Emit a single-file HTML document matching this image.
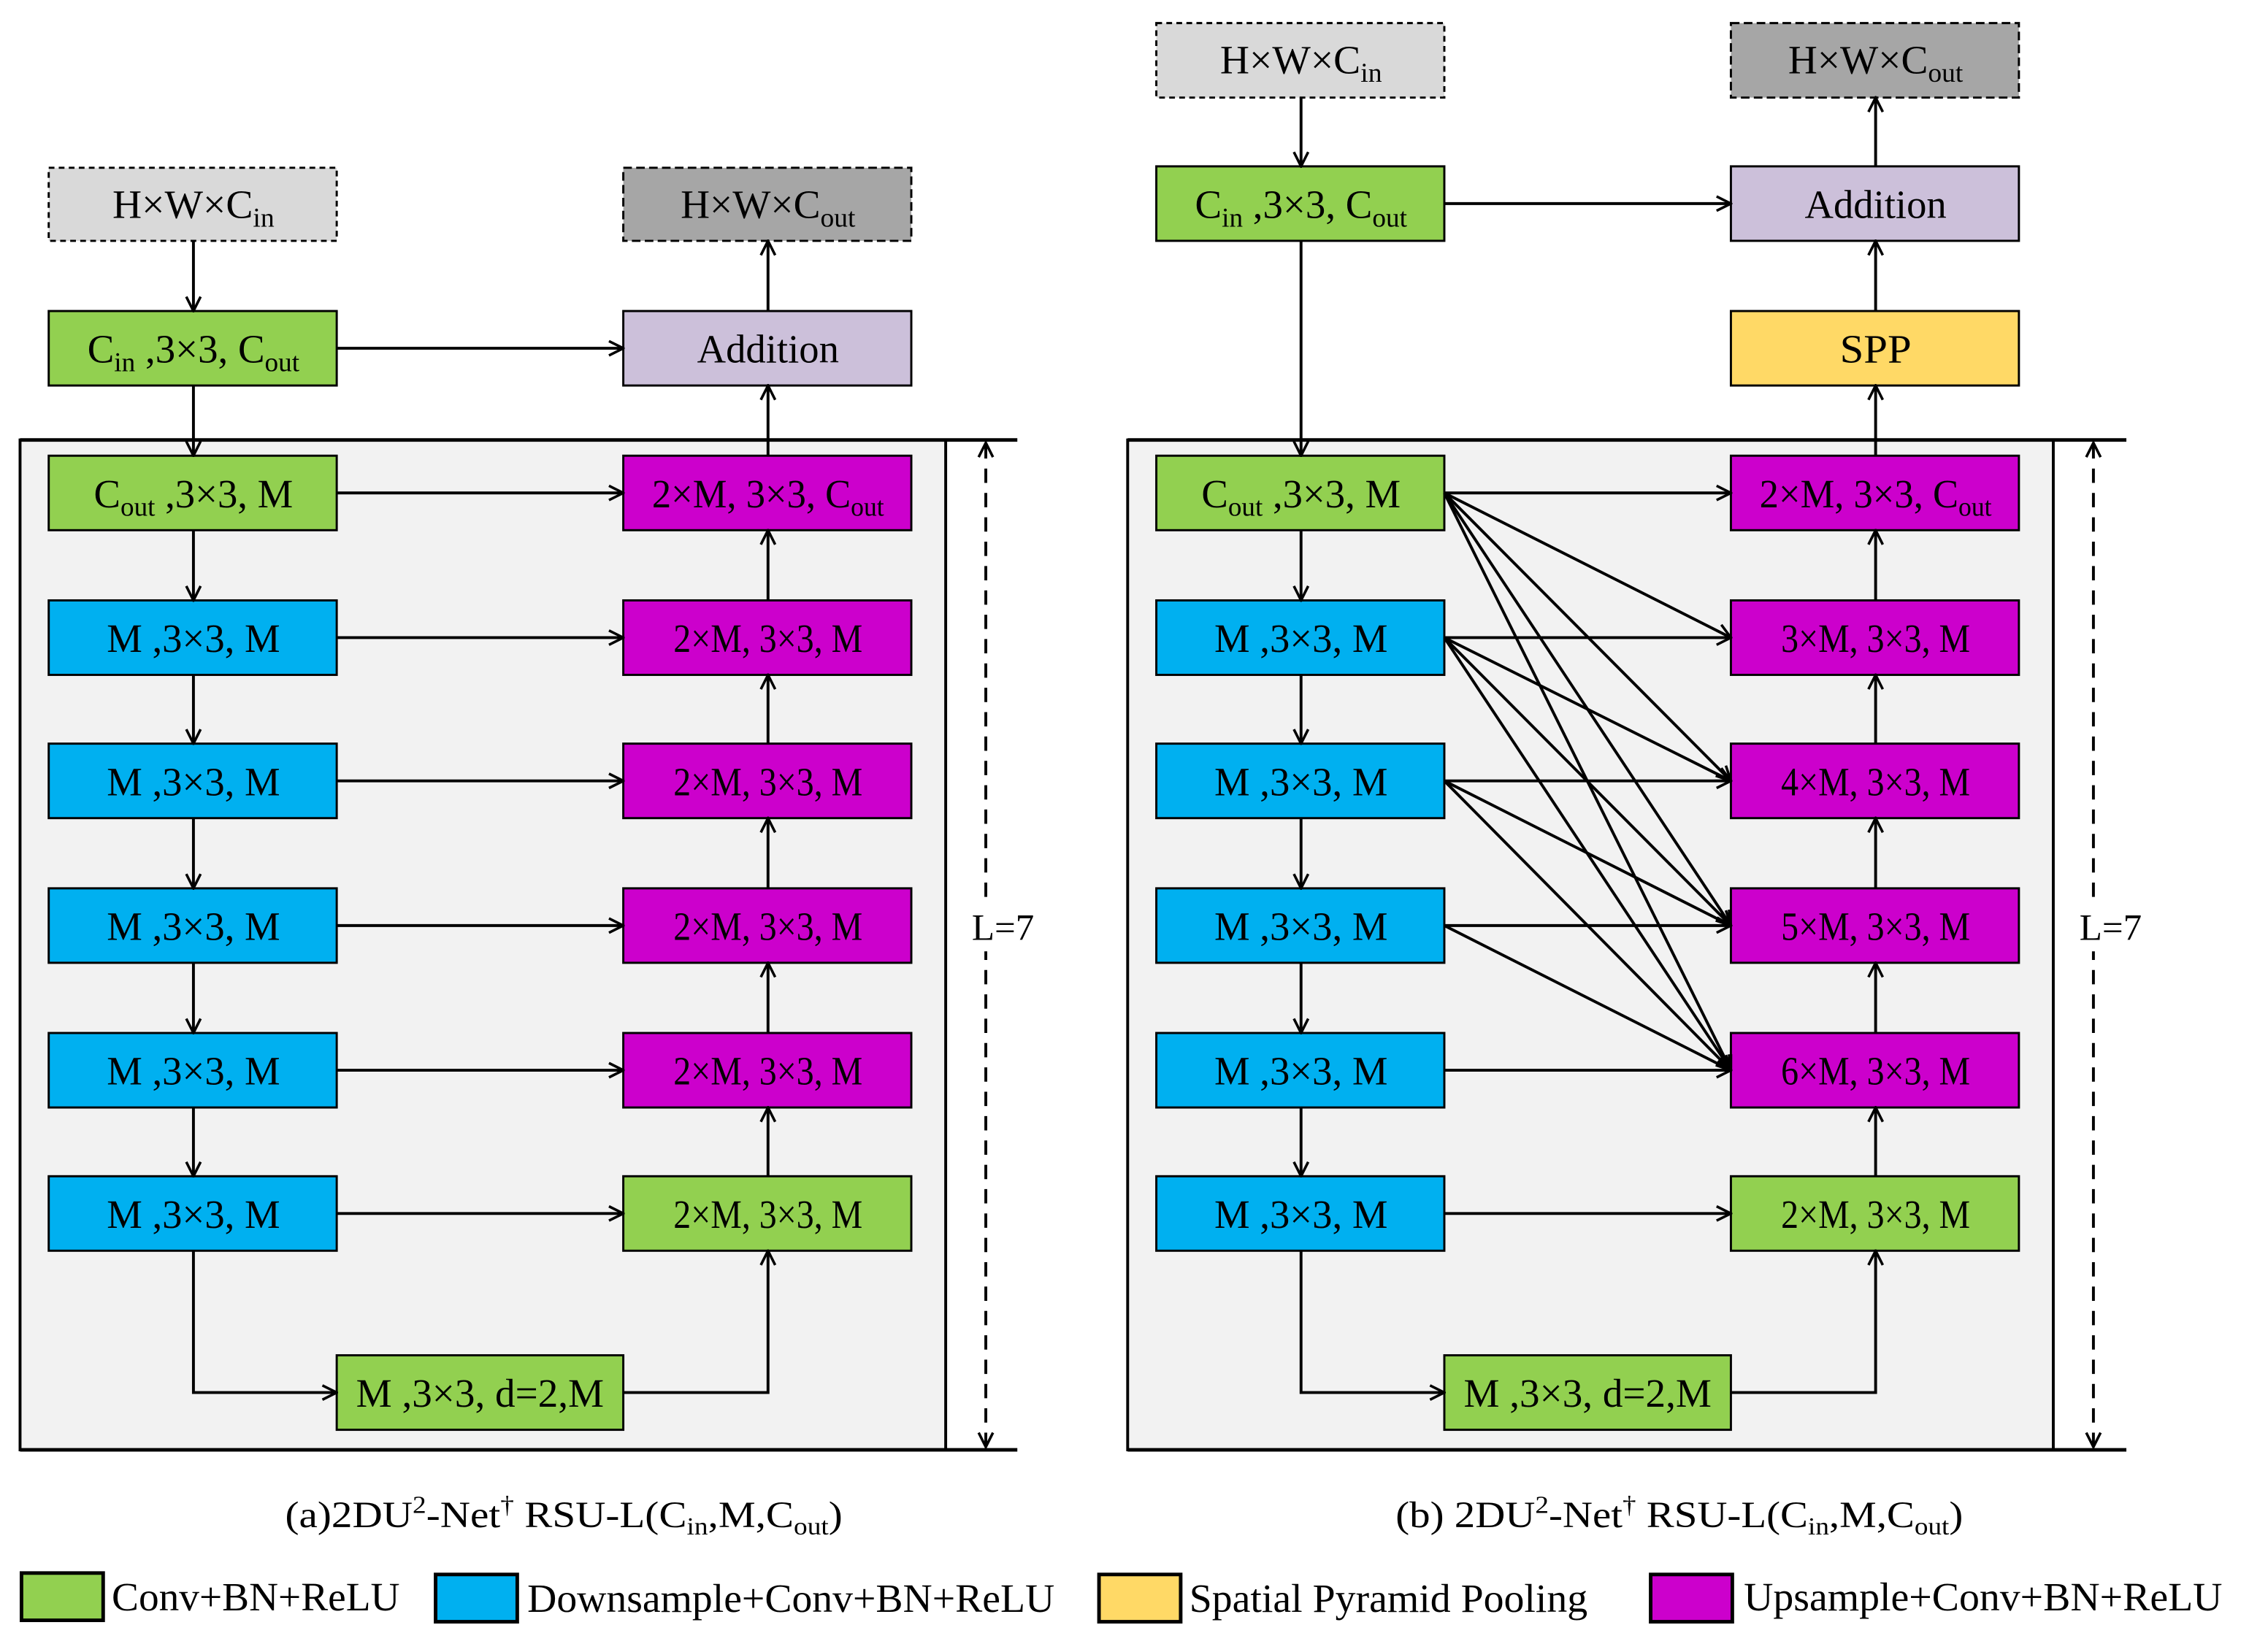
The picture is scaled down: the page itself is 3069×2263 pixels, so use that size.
<!DOCTYPE html>
<html><head><meta charset="utf-8"><style>html,body{margin:0;padding:0;background:#fff}svg{display:block}</style></head>
<body>
<svg width="3069" height="2263" viewBox="0 0 1564 1153" xmlns="http://www.w3.org/2000/svg" font-family="'Liberation Serif', serif" font-size="28">
<defs>
<marker id="ar" viewBox="0 0 12 12" refX="11" refY="6" markerWidth="12" markerHeight="12" markerUnits="userSpaceOnUse" orient="auto">
<path d="M1,1 L11,6 L1,11" fill="none" stroke="#000" stroke-width="1.8"/>
</marker>
</defs>
<rect width="1564" height="1153" fill="#fff"/>

<!-- ============ PANEL A ============ -->
<rect x="14" y="307" width="646" height="705" fill="#f2f2f2" stroke="#000" stroke-width="2"/>
<line x1="14" y1="307" x2="710" y2="307" stroke="#000" stroke-width="2.5"/>
<line x1="14" y1="1012" x2="710" y2="1012" stroke="#000" stroke-width="2.5"/>
<line x1="688" y1="660" x2="688" y2="309" stroke="#000" stroke-width="2" stroke-dasharray="10,7" marker-end="url(#ar)"/>
<line x1="688" y1="660" x2="688" y2="1010" stroke="#000" stroke-width="2" stroke-dasharray="10,7" marker-end="url(#ar)"/>
<rect x="674" y="630" width="54" height="34" fill="#fff"/>
<text x="700" y="656" text-anchor="middle" font-size="26">L=7</text>

<g stroke="#000" stroke-width="1.5">
<rect x="34" y="117" width="201" height="51" fill="#d9d9d9" stroke-dasharray="4,3"/>
<rect x="435" y="117" width="201" height="51" fill="#a6a6a6" stroke-dasharray="6,3"/>
<rect x="34" y="217" width="201" height="52" fill="#92d050"/>
<rect x="435" y="217" width="201" height="52" fill="#ccc0da"/>
<rect x="34" y="318" width="201" height="52" fill="#92d050"/>
<rect x="34" y="419" width="201" height="52" fill="#00b0f0"/>
<rect x="34" y="519" width="201" height="52" fill="#00b0f0"/>
<rect x="34" y="620" width="201" height="52" fill="#00b0f0"/>
<rect x="34" y="721" width="201" height="52" fill="#00b0f0"/>
<rect x="34" y="821" width="201" height="52" fill="#00b0f0"/>
<rect x="435" y="318" width="201" height="52" fill="#cc00cc"/>
<rect x="435" y="419" width="201" height="52" fill="#cc00cc"/>
<rect x="435" y="519" width="201" height="52" fill="#cc00cc"/>
<rect x="435" y="620" width="201" height="52" fill="#cc00cc"/>
<rect x="435" y="721" width="201" height="52" fill="#cc00cc"/>
<rect x="435" y="821" width="201" height="52" fill="#92d050"/>
<rect x="235" y="946" width="200" height="52" fill="#92d050"/>
</g>
<g stroke="#000" stroke-width="2" fill="none" marker-end="url(#ar)">
<line x1="135" y1="168" x2="135" y2="217"/>
<line x1="235" y1="243" x2="435" y2="243"/>
<line x1="536" y1="217" x2="536" y2="168"/>
<line x1="135" y1="269" x2="135" y2="318"/>
<line x1="536" y1="318" x2="536" y2="269"/>
<line x1="135" y1="370" x2="135" y2="419"/>
<line x1="135" y1="471" x2="135" y2="519"/>
<line x1="135" y1="571" x2="135" y2="620"/>
<line x1="135" y1="672" x2="135" y2="721"/>
<line x1="135" y1="773" x2="135" y2="821"/>
<line x1="536" y1="419" x2="536" y2="370"/>
<line x1="536" y1="519" x2="536" y2="471"/>
<line x1="536" y1="620" x2="536" y2="571"/>
<line x1="536" y1="721" x2="536" y2="672"/>
<line x1="536" y1="821" x2="536" y2="773"/>
<line x1="235" y1="344" x2="435" y2="344"/>
<line x1="235" y1="445" x2="435" y2="445"/>
<line x1="235" y1="545" x2="435" y2="545"/>
<line x1="235" y1="646" x2="435" y2="646"/>
<line x1="235" y1="747" x2="435" y2="747"/>
<line x1="235" y1="847" x2="435" y2="847"/>
<polyline points="135,873 135,972 235,972"/>
<polyline points="435,972 536,972 536,873"/>
</g>
<g text-anchor="middle" lengthAdjust="spacingAndGlyphs">
<text x="135" y="152" textLength="113" lengthAdjust="spacingAndGlyphs">H×W×C<tspan font-size="19" dy="6">in</tspan></text>
<text x="536" y="152" textLength="122" lengthAdjust="spacingAndGlyphs">H×W×C<tspan font-size="19" dy="6">out</tspan></text>
<text x="135" y="253" textLength="148" lengthAdjust="spacingAndGlyphs">C<tspan font-size="19" dy="6">in</tspan><tspan dy="-6"> ,3×3, C</tspan><tspan font-size="19" dy="6">out</tspan></text>
<text x="536" y="253" textLength="99" lengthAdjust="spacingAndGlyphs">Addition</text>
<text x="135" y="354" textLength="139" lengthAdjust="spacingAndGlyphs">C<tspan font-size="19" dy="6">out</tspan><tspan dy="-6"> ,3×3, M</tspan></text>
<text x="135" y="455" textLength="121" lengthAdjust="spacingAndGlyphs">M ,3×3, M</text>
<text x="135" y="555" textLength="121" lengthAdjust="spacingAndGlyphs">M ,3×3, M</text>
<text x="135" y="656" textLength="121" lengthAdjust="spacingAndGlyphs">M ,3×3, M</text>
<text x="135" y="757" textLength="121" lengthAdjust="spacingAndGlyphs">M ,3×3, M</text>
<text x="135" y="857" textLength="121" lengthAdjust="spacingAndGlyphs">M ,3×3, M</text>
<text x="536" y="354" textLength="162" lengthAdjust="spacingAndGlyphs">2×M, 3×3, C<tspan font-size="19" dy="6">out</tspan></text>
<text x="536" y="455" textLength="132" lengthAdjust="spacingAndGlyphs">2×M, 3×3, M</text>
<text x="536" y="555" textLength="132" lengthAdjust="spacingAndGlyphs">2×M, 3×3, M</text>
<text x="536" y="656" textLength="132" lengthAdjust="spacingAndGlyphs">2×M, 3×3, M</text>
<text x="536" y="757" textLength="132" lengthAdjust="spacingAndGlyphs">2×M, 3×3, M</text>
<text x="536" y="857" textLength="132" lengthAdjust="spacingAndGlyphs">2×M, 3×3, M</text>
<text x="335" y="982" textLength="173" lengthAdjust="spacingAndGlyphs">M ,3×3, d=2,M</text>
</g>

<!-- ============ PANEL B ============ -->
<rect x="787" y="307" width="646" height="705" fill="#f2f2f2" stroke="#000" stroke-width="2"/>
<line x1="787" y1="307" x2="1484" y2="307" stroke="#000" stroke-width="2.5"/>
<line x1="787" y1="1012" x2="1484" y2="1012" stroke="#000" stroke-width="2.5"/>
<line x1="1461" y1="660" x2="1461" y2="309" stroke="#000" stroke-width="2" stroke-dasharray="10,7" marker-end="url(#ar)"/>
<line x1="1461" y1="660" x2="1461" y2="1010" stroke="#000" stroke-width="2" stroke-dasharray="10,7" marker-end="url(#ar)"/>
<rect x="1447" y="630" width="54" height="34" fill="#fff"/>
<text x="1473" y="656" text-anchor="middle" font-size="26">L=7</text>

<g stroke="#000" stroke-width="1.5">
<rect x="807" y="16" width="201" height="52" fill="#d9d9d9" stroke-dasharray="4,3"/>
<rect x="1208" y="16" width="201" height="52" fill="#a6a6a6" stroke-dasharray="6,3"/>
<rect x="807" y="116" width="201" height="52" fill="#92d050"/>
<rect x="1208" y="116" width="201" height="52" fill="#ccc0da"/>
<rect x="1208" y="217" width="201" height="52" fill="#ffd966"/>
<rect x="807" y="318" width="201" height="52" fill="#92d050"/>
<rect x="807" y="419" width="201" height="52" fill="#00b0f0"/>
<rect x="807" y="519" width="201" height="52" fill="#00b0f0"/>
<rect x="807" y="620" width="201" height="52" fill="#00b0f0"/>
<rect x="807" y="721" width="201" height="52" fill="#00b0f0"/>
<rect x="807" y="821" width="201" height="52" fill="#00b0f0"/>
<rect x="1208" y="318" width="201" height="52" fill="#cc00cc"/>
<rect x="1208" y="419" width="201" height="52" fill="#cc00cc"/>
<rect x="1208" y="519" width="201" height="52" fill="#cc00cc"/>
<rect x="1208" y="620" width="201" height="52" fill="#cc00cc"/>
<rect x="1208" y="721" width="201" height="52" fill="#cc00cc"/>
<rect x="1208" y="821" width="201" height="52" fill="#92d050"/>
<rect x="1008" y="946" width="200" height="52" fill="#92d050"/>
</g>
<g stroke="#000" stroke-width="2" fill="none" marker-end="url(#ar)">
<line x1="908" y1="68" x2="908" y2="116"/>
<line x1="1008" y1="142" x2="1208" y2="142"/>
<line x1="1309" y1="116" x2="1309" y2="68"/>
<line x1="1309" y1="217" x2="1309" y2="168"/>
<line x1="908" y1="168" x2="908" y2="318"/>
<line x1="1309" y1="318" x2="1309" y2="269"/>
<line x1="908" y1="370" x2="908" y2="419"/>
<line x1="908" y1="471" x2="908" y2="519"/>
<line x1="908" y1="571" x2="908" y2="620"/>
<line x1="908" y1="672" x2="908" y2="721"/>
<line x1="908" y1="773" x2="908" y2="821"/>
<line x1="1309" y1="419" x2="1309" y2="370"/>
<line x1="1309" y1="519" x2="1309" y2="471"/>
<line x1="1309" y1="620" x2="1309" y2="571"/>
<line x1="1309" y1="721" x2="1309" y2="672"/>
<line x1="1309" y1="821" x2="1309" y2="773"/>
<line x1="1008" y1="344" x2="1208" y2="344"/>
<line x1="1008" y1="344" x2="1208" y2="445"/>
<line x1="1008" y1="344" x2="1208" y2="545"/>
<line x1="1008" y1="344" x2="1208" y2="646"/>
<line x1="1008" y1="344" x2="1208" y2="747"/>
<line x1="1008" y1="445" x2="1208" y2="445"/>
<line x1="1008" y1="445" x2="1208" y2="545"/>
<line x1="1008" y1="445" x2="1208" y2="646"/>
<line x1="1008" y1="445" x2="1208" y2="747"/>
<line x1="1008" y1="545" x2="1208" y2="545"/>
<line x1="1008" y1="545" x2="1208" y2="646"/>
<line x1="1008" y1="545" x2="1208" y2="747"/>
<line x1="1008" y1="646" x2="1208" y2="646"/>
<line x1="1008" y1="646" x2="1208" y2="747"/>
<line x1="1008" y1="747" x2="1208" y2="747"/>
<line x1="1008" y1="847" x2="1208" y2="847"/>
<polyline points="908,873 908,972 1008,972"/>
<polyline points="1208,972 1309,972 1309,873"/>
</g>
<g text-anchor="middle">
<text x="908" y="51" textLength="113" lengthAdjust="spacingAndGlyphs">H×W×C<tspan font-size="19" dy="6">in</tspan></text>
<text x="1309" y="51" textLength="122" lengthAdjust="spacingAndGlyphs">H×W×C<tspan font-size="19" dy="6">out</tspan></text>
<text x="908" y="152" textLength="148" lengthAdjust="spacingAndGlyphs">C<tspan font-size="19" dy="6">in</tspan><tspan dy="-6"> ,3×3, C</tspan><tspan font-size="19" dy="6">out</tspan></text>
<text x="1309" y="152" textLength="99" lengthAdjust="spacingAndGlyphs">Addition</text>
<text x="1309" y="253" textLength="50" lengthAdjust="spacingAndGlyphs">SPP</text>
<text x="908" y="354" textLength="139" lengthAdjust="spacingAndGlyphs">C<tspan font-size="19" dy="6">out</tspan><tspan dy="-6"> ,3×3, M</tspan></text>
<text x="908" y="455" textLength="121" lengthAdjust="spacingAndGlyphs">M ,3×3, M</text>
<text x="908" y="555" textLength="121" lengthAdjust="spacingAndGlyphs">M ,3×3, M</text>
<text x="908" y="656" textLength="121" lengthAdjust="spacingAndGlyphs">M ,3×3, M</text>
<text x="908" y="757" textLength="121" lengthAdjust="spacingAndGlyphs">M ,3×3, M</text>
<text x="908" y="857" textLength="121" lengthAdjust="spacingAndGlyphs">M ,3×3, M</text>
<text x="1309" y="354" textLength="162" lengthAdjust="spacingAndGlyphs">2×M, 3×3, C<tspan font-size="19" dy="6">out</tspan></text>
<text x="1309" y="455" textLength="132" lengthAdjust="spacingAndGlyphs">3×M, 3×3, M</text>
<text x="1309" y="555" textLength="132" lengthAdjust="spacingAndGlyphs">4×M, 3×3, M</text>
<text x="1309" y="656" textLength="132" lengthAdjust="spacingAndGlyphs">5×M, 3×3, M</text>
<text x="1309" y="757" textLength="132" lengthAdjust="spacingAndGlyphs">6×M, 3×3, M</text>
<text x="1309" y="857" textLength="132" lengthAdjust="spacingAndGlyphs">2×M, 3×3, M</text>
<text x="1108" y="982" textLength="173" lengthAdjust="spacingAndGlyphs">M ,3×3, d=2,M</text>
</g>

<!-- captions -->
<text x="199" y="1066" font-size="26" textLength="389" lengthAdjust="spacingAndGlyphs">(a)2DU<tspan font-size="17" dy="-10">2</tspan><tspan dy="10">-Net</tspan><tspan font-size="17" dy="-10">†</tspan><tspan dy="10">  RSU-L(C</tspan><tspan font-size="17" dy="5">in</tspan><tspan dy="-5">,M,C</tspan><tspan font-size="17" dy="5">out</tspan><tspan dy="-5">)</tspan></text>
<text x="974" y="1066" font-size="26" textLength="396" lengthAdjust="spacingAndGlyphs">(b) 2DU<tspan font-size="17" dy="-10">2</tspan><tspan dy="10">-Net</tspan><tspan font-size="17" dy="-10">†</tspan><tspan dy="10">  RSU-L(C</tspan><tspan font-size="17" dy="5">in</tspan><tspan dy="-5">,M,C</tspan><tspan font-size="17" dy="5">out</tspan><tspan dy="-5">)</tspan></text>

<!-- legend -->
<g stroke="#000" stroke-width="2.5">
<rect x="15" y="1098" width="57" height="33" fill="#92d050"/>
<rect x="304" y="1099" width="57" height="33" fill="#00b0f0"/>
<rect x="767" y="1099" width="57" height="33" fill="#ffd966"/>
<rect x="1152" y="1099" width="57" height="33" fill="#cc00cc"/>
</g>
<text x="78" y="1124" font-size="28" textLength="201" lengthAdjust="spacingAndGlyphs">Conv+BN+ReLU</text>
<text x="368" y="1125" font-size="28" textLength="368" lengthAdjust="spacingAndGlyphs">Downsample+Conv+BN+ReLU</text>
<text x="830" y="1125" font-size="28" textLength="278" lengthAdjust="spacingAndGlyphs">Spatial Pyramid Pooling</text>
<text x="1217" y="1124" font-size="28" textLength="334" lengthAdjust="spacingAndGlyphs">Upsample+Conv+BN+ReLU</text>
</svg>
</body></html>
